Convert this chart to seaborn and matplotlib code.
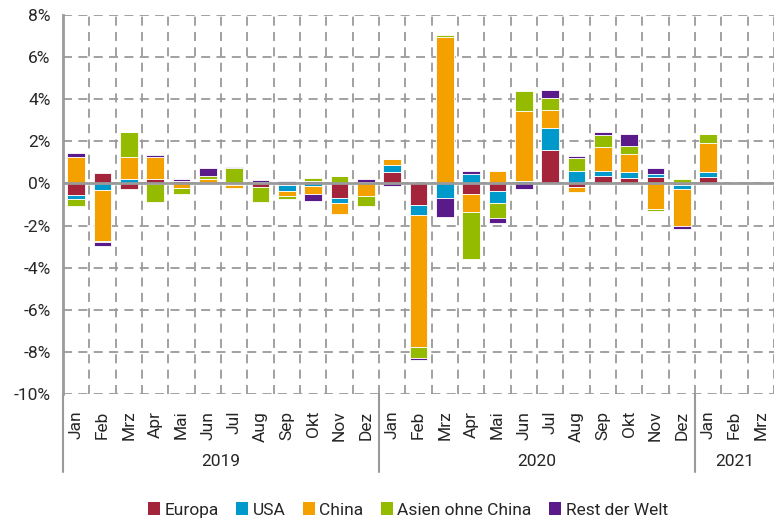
import numpy as np
import pandas as pd
import seaborn as sns
import matplotlib.pyplot as plt
import matplotlib.transforms as mtransforms
from matplotlib.patches import Patch

months = ["Jan", "Feb", "Mrz", "Apr", "Mai", "Jun", "Jul", "Aug", "Sep", "Okt", "Nov", "Dez",
          "Jan", "Feb", "Mrz", "Apr", "Mai", "Jun", "Jul", "Aug", "Sep", "Okt", "Nov", "Dez",
          "Jan", "Feb", "Mrz"]
years = ["2019"] * 12 + ["2020"] * 12 + ["2021"] * 3

# contributions in percentage points
europa = [-0.54, 0.51, -0.26, 0.22, 0.12, 0.0, -0.03, -0.19, -0.08, 0.10, -0.68, 0.06,
          0.54, -1.00, 0.0, -0.48, -0.38, 0.0, 1.59, -0.19, 0.35, 0.25, 0.30, -0.06,
          0.32, 0.0, 0.0]
usa = [-0.22, -0.30, 0.22, -0.05, 0.0, 0.0, -0.05, 0.0, -0.27, -0.13, -0.25, 0.0,
       0.33, -0.52, -0.71, 0.46, -0.57, 0.10, 1.05, 0.60, 0.25, 0.29, 0.14, -0.19,
       0.22, 0.0, 0.0]
china = [1.24, -2.41, 1.03, 1.02, -0.22, 0.22, -0.12, 0.08, -0.26, -0.36, -0.54, -0.60,
         0.29, -6.23, 6.97, -0.89, 0.60, 3.32, 0.87, -0.22, 1.11, 0.86, -1.22, -1.78,
         1.38, 0.0, 0.0]
asien = [-0.29, -0.08, 1.21, -0.85, -0.30, 0.13, 0.75, -0.70, -0.13, 0.14, 0.35, -0.46,
         0.0, -0.55, 0.10, -2.22, -0.71, 0.97, 0.54, 0.59, 0.60, 0.38, -0.11, 0.22,
         0.41, 0.0, 0.0]
rest = [0.21, -0.16, 0.0, 0.10, 0.08, 0.36, 0.03, 0.10, 0.10, -0.36, 0.0, 0.15,
        -0.13, -0.07, -0.87, 0.11, -0.21, -0.25, 0.38, 0.13, 0.11, 0.57, 0.29, -0.11,
        0.0, 0.0, 0.0]

series = {"Europa": europa, "USA": usa, "China": china,
          "Asien ohne China": asien, "Rest der Welt": rest}
colors = {"Europa": "#A4243B", "USA": "#0099CC", "China": "#F4A100",
          "Asien ohne China": "#95BB00", "Rest der Welt": "#5B1A8A"}

yticks = list(range(-10, 9, 2))

sns.set_style("white")
plt.rcParams["font.family"] = ["Roboto", "DejaVu Sans"]

cats = [f"{m} {y}" for m, y in zip(months, years)]
fig = plt.figure(figsize=(7.74, 5.21), dpi=100)
ax = fig.add_axes([63 / 774, 127 / 521, 1 - 63 / 774, 379 / 521])

grid_c = "#9a9a9a"
dash = (0, (5, 3.5))
for v in yticks:
    ax.axhline(v, color=grid_c, lw=1.3, ls=dash, zorder=0)
for i in range(len(cats)):
    ax.axvline(i + 0.5, color=grid_c, lw=1.3, ls=dash, zorder=0)

pos_base = np.zeros(len(cats))
neg_base = np.zeros(len(cats))
for name, vals in series.items():
    v = np.array(vals)
    bottom = np.where(v >= 0, pos_base, neg_base)
    df = pd.DataFrame({"cat": cats, "val": v})
    sns.barplot(data=df, x="cat", y="val", order=cats, color=colors[name],
                width=0.66, errorbar=None, bottom=bottom, ax=ax,
                edgecolor="white", linewidth=0.6, saturation=1, zorder=2)
    pos_base += np.clip(v, 0, None)
    neg_base += np.clip(v, None, 0)

ax.axhline(0, color=grid_c, lw=2, zorder=3)

ax.set_ylim(-10, 8)
ax.set_xlim(-0.5, 26.31)
ax.set_yticks(yticks)
ax.set_yticklabels([f"{v}%" for v in yticks], fontsize=12.5)
ax.set_xticks(range(len(cats)))
ax.set_xticklabels(months, rotation=90, fontsize=12.5, va="top")
ax.set_xticks(np.arange(0.5, len(cats), 1), minor=True)
ax.tick_params(axis="x", which="major", length=0, pad=12)
ax.tick_params(axis="x", which="minor", length=4, color=grid_c, width=1.2, direction="out")
ax.tick_params(axis="y", length=5, color=grid_c, width=1.5, direction="out", pad=4)
ax.set_xlabel("")
ax.set_ylabel("")
for s in ["top", "right", "bottom"]:
    ax.spines[s].set_visible(False)
ax.spines["left"].set_color(grid_c)
ax.spines["left"].set_linewidth(2)

# year grouping below the month labels
trans = mtransforms.blended_transform_factory(ax.transData, fig.transFigure)
for x in [-0.5, 11.5, 23.5]:
    ax.plot([x, x], [1 - 394 / 521, 1 - 472 / 521], color=grid_c, lw=1.5,
            transform=trans, clip_on=False)
for label, xc in [("2019", 5.5), ("2020", 17.5), ("2021", 25.0)]:
    ax.text(xc, 1 - 462 / 521, label, transform=trans, ha="center", va="center",
            fontsize=12.5)

handles = [Patch(facecolor=colors[n], edgecolor="none") for n in series]
fig.legend(handles, list(series), loc="center", bbox_to_anchor=(0.527, 1 - 510 / 521),
           ncol=5, frameon=False, fontsize=12.5, handlelength=0.7, handleheight=0.8,
           handletextpad=0.25, columnspacing=1.0)

fig.savefig("out.png", dpi=100)
